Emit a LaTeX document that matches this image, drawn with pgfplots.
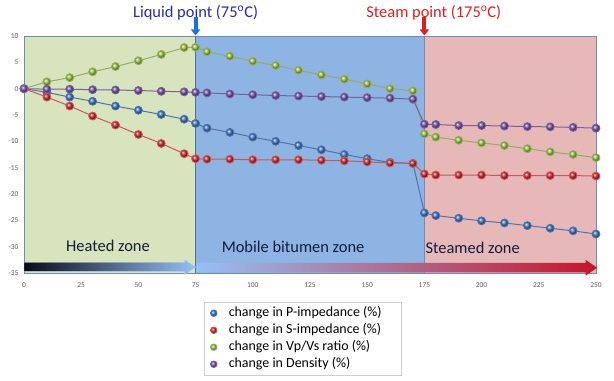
\documentclass[border=0pt]{standalone}
\usepackage{fontspec}
\setmainfont{Carlito}
\usepackage{pgfplots}
\usepackage{pgfplotstable}
\pgfplotsset{compat=1.18}
\usetikzlibrary{arrows.meta}

\definecolor{zgreen}{RGB}{216,228,189}
\definecolor{zblue}{RGB}{141,180,226}
\definecolor{zpink}{RGB}{230,185,184}
\definecolor{edge}{RGB}{110,140,180}
\definecolor{cP}{RGB}{55,120,205}
\definecolor{cS}{RGB}{205,30,40}
\definecolor{cV}{RGB}{150,200,55}
\definecolor{cD}{RGB}{115,80,170}
\definecolor{lP}{RGB}{80,115,170}
\definecolor{lS}{RGB}{205,85,85}
\definecolor{lV}{RGB}{150,172,100}
\definecolor{lD}{RGB}{120,95,155}
\definecolor{tgray}{RGB}{90,90,90}
\definecolor{navy}{RGB}{20,28,60}
\definecolor{liqblue}{RGB}{40,40,170}
\definecolor{arrblue}{RGB}{30,110,225}
\definecolor{stred}{RGB}{220,30,30}
\definecolor{barA}{RGB}{10,10,22}
\definecolor{barB}{RGB}{150,192,245}
\definecolor{barM}{RGB}{185,140,180}
\definecolor{barR}{RGB}{200,20,40}
\definecolor{lgray}{RGB}{205,205,205}

\pgfdeclareplotmark{ballP}{\shade[ball color=cP] (0pt,0pt) circle (\pgfplotmarksize);}
\pgfdeclareplotmark{ballS}{\shade[ball color=cS] (0pt,0pt) circle (\pgfplotmarksize);}
\pgfdeclareplotmark{ballV}{\shade[ball color=cV] (0pt,0pt) circle (\pgfplotmarksize);}
\pgfdeclareplotmark{ballD}{\shade[ball color=cD] (0pt,0pt) circle (\pgfplotmarksize);}

\pgfplotstableread{
x P S V D
0 0 0 0 0
10 -0.7 -1.6 1.3 -0.1
20 -1.6 -3.3 2.1 -0.1
30 -2.4 -5.2 3.2 -0.2
40 -3.3 -6.9 4.2 -0.25
50 -4.1 -8.7 5.3 -0.35
60 -4.9 -10.4 6.5 -0.5
70 -5.8 -12.35 7.8 -0.6
75 -6.6 -13.3 7.85 -0.7
80 -7.5 -13.4 7.0 -0.8
90 -8.3 -13.4 6.15 -1.0
100 -9.2 -13.5 5.2 -1.15
110 -10.0 -13.5 4.4 -1.3
120 -10.8 -13.5 3.5 -1.4
130 -11.6 -13.6 2.6 -1.5
140 -12.5 -13.7 1.8 -1.6
150 -13.3 -13.9 0.9 -1.7
160 -14.0 -14.1 0.0 -1.8
170 -14.2 -14.2 -0.4 -2.0
175 -23.6 -16.2 -8.6 -6.75
180 -24.1 -16.4 -9.2 -6.8
190 -24.6 -16.4 -9.8 -7.0
200 -25.1 -16.4 -10.3 -7.0
210 -25.5 -16.5 -10.8 -7.1
220 -26.0 -16.5 -11.4 -7.2
230 -26.5 -16.5 -12.0 -7.25
240 -27.0 -16.5 -12.5 -7.35
250 -27.6 -16.6 -13.1 -7.5
}\data

\begin{document}
\begin{tikzpicture}
\useasboundingbox (-24bp,-108bp) rectangle (590bp,273bp);
\begin{axis}[
  scale only axis, width=572bp, height=237bp,
  xmin=0, xmax=250, ymin=-35, ymax=10,
  xtick={0,25,...,250}, ytick={-35,-30,...,10},
  major tick length=0pt,
  axis line style={draw=edge, line width=0.5bp},
  tick label style={font=\fontsize{7.5}{9}\selectfont, text=tgray},
  xticklabel style={yshift=-6bp},
  yticklabel style={xshift=-2bp},
  /pgf/number format/assume math mode=true,
  clip=false,
  legend style={at={(axis description cs:0.3147,-0.1224)}, anchor=north west,
    draw=lgray, line width=0.5bp, font=\fontsize{14}{16}\selectfont,
    inner xsep=4bp, inner ysep=3bp, row sep=1bp,
    nodes={inner sep=1.5bp, text height=10bp, text depth=3bp},
    cells={anchor=west}},
  legend image code/.code={\path (0bp,0bp) (18bp,0bp);
    \draw[#1, mark size=3.2bp] plot coordinates {(5bp,0bp)};},
]
% zones
\fill[zgreen] (axis cs:0,-35) rectangle (axis cs:75,10);
\fill[zblue] (axis cs:75,-35) rectangle (axis cs:175,10);
\fill[zpink] (axis cs:175,-35) rectangle (axis cs:250,10);
\draw[edge, line width=0.6bp] (axis cs:0,-35) rectangle (axis cs:250,10);
\draw[edge!80!black, line width=0.7bp] (axis cs:75,-35) -- (axis cs:75,10);
\draw[edge, line width=0.7bp] (axis cs:175,-35) -- (axis cs:175,10);
% gradient arrows
\shade[left color=barA, right color=barB, draw=barB!80!white, line width=0.4bp]
  (axis cs:0,-33.0) -- (axis cs:70.2,-33.0) -- (axis cs:70.2,-32.5) -- (axis cs:75,-33.85)
  -- (axis cs:70.2,-35.3) -- (axis cs:70.2,-34.7) -- (axis cs:0,-34.7) -- cycle;
\shade[left color=barB, middle color=barM, right color=barR]
  (axis cs:75.5,-33.1) -- (axis cs:245.5,-33.1) -- (axis cs:245.5,-32.5) -- (axis cs:250.5,-34.0)
  -- (axis cs:245.5,-35.5) -- (axis cs:245.5,-34.9) -- (axis cs:75.5,-34.9) -- cycle;
% zone labels
\node[text=navy, font=\fontsize{16.5}{18}\selectfont, anchor=center] at (axis cs:36.7,-29.9) {Heated zone};
\node[text=navy, font=\fontsize{16.5}{18}\selectfont, anchor=center] at (axis cs:117.6,-30.0) {Mobile bitumen zone};
\node[text=navy, font=\fontsize{16.5}{18}\selectfont, anchor=west, inner sep=0pt] at (axis cs:175.4,-30.3) {Steamed zone};
% top labels and arrows
\node[text=liqblue, font=\fontsize{16.5}{18}\selectfont, anchor=base] at (axis cs:75,13.42) {Liquid point (75\textsuperscript{o}C)};
\node[text=stred, font=\fontsize{16.5}{18}\selectfont, anchor=base] at (axis cs:179.1,13.42) {Steam point (175\textsuperscript{o}C)};
\draw[-{Triangle[width=9bp,length=6bp]}, line width=4bp, arrblue] (axis cs:75,13.7) -- (axis cs:75,10.1);
\draw[-{Triangle[width=9bp,length=6bp]}, line width=4bp, stred] (axis cs:175,13.7) -- (axis cs:175,10.1);
% data
\addplot[color=lP, line width=1bp, mark=ballP, mark size=3.9bp] table[x=x,y=P]{\data};
\addlegendentry{change in P-impedance (\%)\hspace*{14bp}}
\addplot[color=lS, line width=1bp, mark=ballS, mark size=3.9bp] table[x=x,y=S]{\data};
\addlegendentry{change in S-impedance (\%)}
\addplot[color=lV, line width=1bp, mark=ballV, mark size=3.9bp] table[x=x,y=V]{\data};
\addlegendentry{change in Vp/Vs ratio (\%)}
\addplot[color=lD, line width=1bp, mark=ballD, mark size=3.9bp] table[x=x,y=D]{\data};
\addlegendentry{change in Density (\%)}
\end{axis}
\end{tikzpicture}
\end{document}
